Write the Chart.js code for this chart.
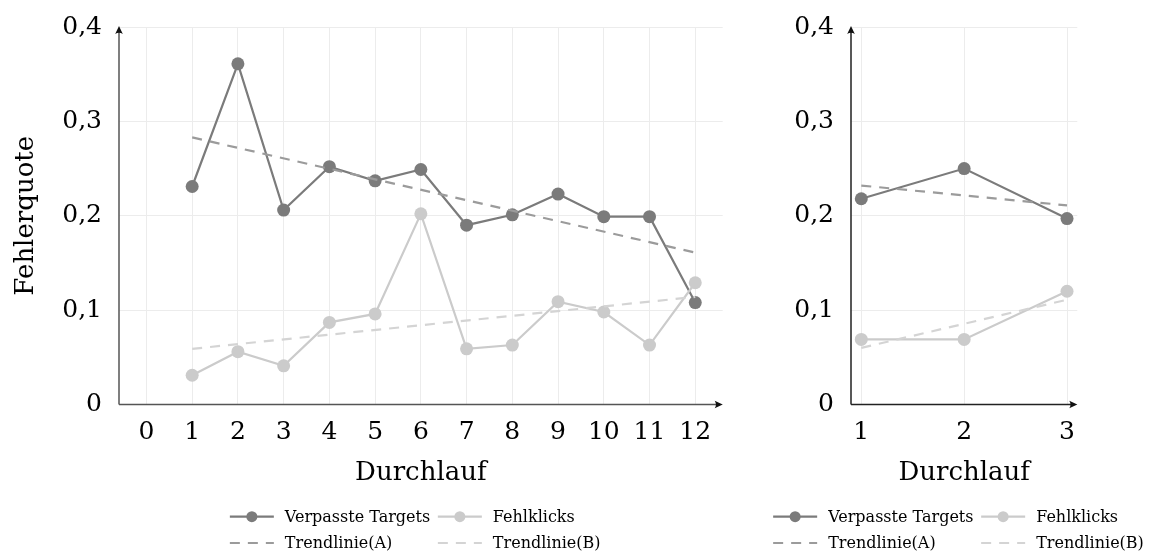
<!DOCTYPE html>
<html>
<head>
<meta charset="utf-8">
<title>Fehlerquote je Durchlauf</title>
<script src="https://cdn.jsdelivr.net/npm/chart.js@4/dist/chart.umd.min.js"></script>
<style>
  html, body { margin: 0; padding: 0; background: #fff; }
  #wrap { position: relative; width: 1159px; height: 556px; overflow: hidden; }
  #leftChart { position: absolute; left: 0; top: 0; }
  #rightChart { position: absolute; left: 740px; top: 0; }
</style>
</head>
<body>
<div id="wrap">
  <canvas id="leftChart" width="740" height="556"></canvas>
  <canvas id="rightChart" width="419" height="556"></canvas>
</div>
<script>
// ---- Data: first study (12 runs) ----
const runsA = [1, 2, 3, 4, 5, 6, 7, 8, 9, 10, 11, 12];
const missedA = [0.231, 0.361, 0.206, 0.252, 0.237, 0.249, 0.190, 0.201, 0.223, 0.199, 0.199, 0.108];
const misclicksA = [0.031, 0.056, 0.041, 0.087, 0.096, 0.202, 0.059, 0.063, 0.109, 0.098, 0.063, 0.129];
const trendRunsA = [1, 12];
const trendMissedA = [0.283, 0.161];
const trendMisclicksA = [0.059, 0.114];
const xTicksA = [0, 1, 2, 3, 4, 5, 6, 7, 8, 9, 10, 11, 12];

// ---- Data: second study (3 runs) ----
const runsB = [1, 2, 3];
const missedB = [0.218, 0.250, 0.197];
const misclicksB = [0.069, 0.069, 0.120];
const trendRunsB = [1, 3];
const trendMissedB = [0.232, 0.211];
const trendMisclicksB = [0.060, 0.111];
const xTicksB = [1, 2, 3];

// ---- Shared axis ticks and labels ----
const yTicks = [0, 0.1, 0.2, 0.3, 0.4];
const yTickLabels = ['0', '0,1', '0,2', '0,3', '0,4'];
const legendLabels = ['Verpasste Targets', 'Fehlklicks', 'Trendlinie(A)', 'Trendlinie(B)'];

const SERIF = '"DejaVu Serif", "Liberation Serif", serif';
const COLORS = {
  missed: '#7b7b7b',
  misclicks: '#cbcbcb',
  trendA: '#9b9b9b',
  trendB: '#d4d4d4',
  grid: '#ececec'
};
const DASH = [10, 8];

function points(xs, ys) {
  return xs.map((x, i) => ({ x: x, y: ys[i] }));
}

function buildDatasets(runs, missed, misclicks, trendRuns, trendMissed, trendMisclicks) {
  return [
    {
      label: legendLabels[0], data: points(runs, missed),
      borderColor: COLORS.missed, backgroundColor: COLORS.missed,
      pointBackgroundColor: COLORS.missed, pointBorderWidth: 0,
      pointRadius: 6.5, borderWidth: 2.2, tension: 0, order: 4, legendMarker: true
    },
    {
      label: legendLabels[1], data: points(runs, misclicks),
      borderColor: COLORS.misclicks, backgroundColor: COLORS.misclicks,
      pointBackgroundColor: COLORS.misclicks, pointBorderWidth: 0,
      pointRadius: 6.5, borderWidth: 2.2, tension: 0, order: 3, legendMarker: true
    },
    {
      label: legendLabels[2], data: points(trendRuns, trendMissed),
      borderColor: COLORS.trendA, borderDash: DASH, borderWidth: 2.2,
      pointRadius: 0, order: 2, legendMarker: false
    },
    {
      label: legendLabels[3], data: points(trendRuns, trendMisclicks),
      borderColor: COLORS.trendB, borderDash: DASH, borderWidth: 2.2,
      pointRadius: 0, order: 1, legendMarker: false
    }
  ];
}

// Axis lines with arrow heads at the positive ends
const arrowAxes = {
  id: 'arrowAxes',
  beforeDatasetsDraw(chart, args, opts) {
    const { ctx, chartArea: a } = chart;
    ctx.save();
    ctx.strokeStyle = opts.color;
    ctx.lineWidth = opts.width;
    ctx.beginPath();
    ctx.moveTo(a.left, a.bottom);
    ctx.lineTo(a.right - 3, a.bottom);
    ctx.moveTo(a.left, a.bottom);
    ctx.lineTo(a.left, a.top + 3);
    ctx.stroke();
    ctx.fillStyle = opts.headColor;
    // x head
    const tx = a.right, ty = a.bottom;
    ctx.beginPath();
    ctx.moveTo(tx, ty);
    ctx.lineTo(tx - 8, ty - 3.8);
    ctx.quadraticCurveTo(tx - 5.5, ty, tx - 8, ty + 3.8);
    ctx.closePath();
    ctx.fill();
    // y head
    const ux = a.left, uy = a.top - 1;
    ctx.beginPath();
    ctx.moveTo(ux, uy);
    ctx.lineTo(ux - 3.8, uy + 8);
    ctx.quadraticCurveTo(ux, uy + 5.5, ux + 3.8, uy + 8);
    ctx.closePath();
    ctx.fill();
    ctx.restore();
  }
};

// Two-column legend below the plot
const gridLegend = {
  id: 'gridLegend',
  afterDraw(chart, args, opts) {
    const { ctx, chartArea: a } = chart;
    const cx = (a.left + a.right) / 2;
    const x0 = cx + opts.offsetX;
    const rows = [a.bottom + opts.row1, a.bottom + opts.row2];
    ctx.save();
    ctx.font = '16px ' + SERIF;
    ctx.textBaseline = 'middle';
    ctx.textAlign = 'left';
    chart.data.datasets.forEach((ds, i) => {
      const col = i % 2, row = Math.floor(i / 2);
      const sx = x0 + col * opts.colGap;
      const sy = rows[row];
      ctx.strokeStyle = ds.borderColor;
      ctx.lineWidth = 2.2;
      ctx.setLineDash(ds.borderDash || []);
      ctx.beginPath();
      ctx.moveTo(sx, sy);
      ctx.lineTo(sx + 44, sy);
      ctx.stroke();
      ctx.setLineDash([]);
      if (ds.legendMarker) {
        ctx.fillStyle = ds.pointBackgroundColor;
        ctx.beginPath();
        ctx.arc(sx + 22, sy, 5.5, 0, Math.PI * 2);
        ctx.fill();
      }
      ctx.fillStyle = '#000';
      ctx.fillText(ds.label, sx + 55, sy + 1);
    });
    ctx.restore();
  }
};

function buildOptions(cfg) {
  return {
    responsive: false,
    animation: false,
    events: [],
    layout: { padding: { top: 27, bottom: cfg.padBottom, left: 0, right: cfg.padRight } },
    plugins: {
      legend: { display: false },
      tooltip: { enabled: false },
      arrowAxes: { color: cfg.axisColor, headColor: '#111', width: 1.5 },
      gridLegend: { offsetX: -191, colGap: 208, row1: 112.2, row2: 138.5 }
    },
    scales: {
      x: {
        type: 'linear',
        min: cfg.xMin,
        max: cfg.xMax,
        afterBuildTicks: s => { s.ticks = cfg.xTicks.map(v => ({ value: v })); },
        afterFit: s => { s.height = 92; },
        border: { display: false },
        grid: { color: COLORS.grid, lineWidth: 1, drawTicks: false },
        ticks: {
          font: { family: SERIF, size: 25 }, color: '#000', padding: 13,
          maxRotation: 0, autoSkip: false,
          callback: v => String(v)
        },
        title: {
          display: true, text: 'Durchlauf', color: '#000',
          font: { family: SERIF, size: 26 }, padding: { top: 0, bottom: 8 }
        }
      },
      y: {
        type: 'linear',
        min: 0,
        max: 0.4,
        afterBuildTicks: s => { s.ticks = yTicks.map(v => ({ value: v })); },
        afterFit: s => {
          s.width = cfg.yWidth;
          // the plot box is fixed by the layout padding, not by label overhang
          s.paddingTop = 0;
          s.paddingBottom = 0;
        },
        border: { display: false },
        grid: { color: COLORS.grid, lineWidth: 1, drawTicks: false },
        ticks: {
          font: { family: SERIF, size: 25 }, color: '#000', padding: 17,
          callback: (v, i) => yTickLabels[i]
        },
        title: {
          display: cfg.yTitle, text: 'Fehlerquote', color: '#000',
          font: { family: SERIF, size: 26 }, padding: { top: 11, bottom: 0 }
        }
      }
    }
  };
}

new Chart(document.getElementById('leftChart'), {
  type: 'line',
  data: { datasets: buildDatasets(runsA, missedA, misclicksA, trendRunsA, trendMissedA, trendMisclicksA) },
  options: buildOptions({
    xMin: -0.6, xMax: 12.6, xTicks: xTicksA, yWidth: 119, yTitle: true,
    padBottom: 59.5, padRight: 17.3, axisColor: '#555'
  }),
  plugins: [arrowAxes, gridLegend]
});

new Chart(document.getElementById('rightChart'), {
  type: 'line',
  data: { datasets: buildDatasets(runsB, missedB, misclicksB, trendRunsB, trendMissedB, trendMisclicksB) },
  options: buildOptions({
    xMin: 0.9, xMax: 3.1, xTicks: xTicksB, yWidth: 111, yTitle: false,
    padBottom: 59.5, padRight: 81.7, axisColor: '#222'
  }),
  plugins: [arrowAxes, gridLegend]
});
</script>
</body>
</html>
